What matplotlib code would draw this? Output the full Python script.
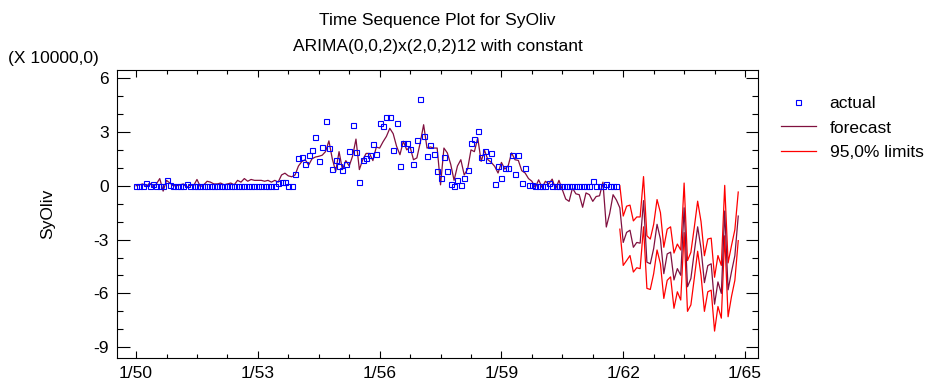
import matplotlib
matplotlib.use("Agg")
import matplotlib.pyplot as plt
from matplotlib.ticker import FixedLocator, MultipleLocator
import numpy as np

plt.rcParams['font.family'] = ['Liberation Sans', 'DejaVu Sans']
plt.rcParams['axes.unicode_minus'] = False

# ---- data (units of 10000), monthly from 1/50 ----
start_year = 1950
actual = [
    0, 0, 0, 0.15, 0, 0.1, 0, 0, 0, 0.3, 0.05, 0,
    0, 0, 0, 0.1, 0, 0, 0, 0, 0, 0, 0, 0,
    0, 0, 0, 0, 0, 0, 0, 0, 0, 0, 0, 0,
    0, 0, 0, 0, 0, 0, 0.15, 0.2, 0.2, 0, 0, 0.65,
    1.55, 1.6, 1.23, 1.7, 2.0, 2.7, 1.4, 2.16, 3.58, 2.08, 0.93, 1.41,
    1.08, 0.9, 1.23, 1.96, 3.39, 1.88, 0.2, 1.45, 1.55, 1.72, 2.35, 1.77,
    3.5, 3.35, 3.84, 3.84, 2.0, 3.5, 1.08, 2.38, 2.38, 2.07, 1.23, 2.53,
    4.84, 2.76, 1.64, 2.27, 1.77, 0.82, 0.41, 1.6, 0.84, 0.1, 0, 0.33,
    0.04, 0.41, 0.9, 2.38, 2.6, 3.05, 1.6, 1.92, 1.45, 1.83, 0.1, 1.12,
    0.45, 0.97, 0.97, 1.71, 0.65, 1.71, 0.15, 0.97, 0.04, 0.04, 0, 0,
    0, 0, 0.15, 0, 0, 0, 0, 0, 0, 0, 0, 0,
    0, 0, 0, 0.25, 0, 0, 0, 0.1, 0, 0, 0,
]
fitted = [
    0.0, 0.05, 0.1, -0.05, 0.15, -0.05, 0.1, 0.4, -0.3, 0.3, 0.15, 0.0,
    0.0, 0.05, 0.1, -0.1, 0.05, 0.0, 0.35, -0.05, 0.05, 0.25, 0.2, 0.1,
    0.1, 0.15, 0.05, 0.1, 0.15, 0.05, 0.3, 0.2, 0.4, 0.25, 0.35, 0.3,
    0.3, 0.3, 0.25, 0.3, 0.2, 0.3, 0.2, 0.6, 0.7, 0.55, 0.5, 0.6,
    1.1, 1.35, 1.45, 1.15, 1.5, 1.6, 1.64, 1.7, 1.9, 2.5, 1.5, 0.8,
    1.9, 0.9, 1.4, 1.1, 1.65, 2.6, 0.9, 1.45, 1.8, 1.8, 1.4, 2.15,
    2.1, 2.45, 2.75, 3.2, 2.9, 2.2, 1.73, 2.48, 2.0, 2.16, 1.45, 1.55,
    2.4, 3.4, 2.1, 2.16, 2.1, 2.1, 0.05, 2.1, 1.83, 1.2, 0.3, 1.1,
    1.45, 0.6, 0.93, 2.0, 1.9, 2.66, 1.36, 1.97, 1.45, 1.3, 1.08, 0.71,
    1.3, 0.93, 1.12, 1.83, 1.45, 1.41, 0.84, 0.71, 0.4, 0.25, -0.1, 0.33,
    -0.1, 0.25, 0.1, 0.37, -0.18, 0.3, -0.22, -0.74, -0.87, -0.13, -0.45, -0.5,
    -1.2, -0.4, -0.5, -0.87, -0.6, -0.56, 0.2, -2.3, -1.55, -0.5, -0.8,
]
forecast = [
    -1.23, -3.16, -2.6, -2.48, -3.43, -3.16, -3.2, -0.83, -4.26, -4.35, -3.5, -2.15,
    -2.97, -4.9, -3.8, -3.7, -5.25, -4.62, -4.99, -1.23, -5.63, -5.17, -3.7, -2.29,
    -3.5, -5.4, -4.45, -4.35, -6.6, -5.36, -6.0, -1.41, -5.8, -4.8, -3.9, -1.69,
]
upper = [
    0.0, -1.69, -1.14, -1.08, -1.96, -1.74, -1.74, 0.51, -2.79, -2.97, -2.15, -0.77,
    -1.5, -3.43, -2.42, -2.29, -3.75, -3.25, -3.58, 0.15, -4.17, -3.71, -2.33, -0.86,
    -2.0, -3.9, -2.97, -2.92, -5.1, -3.89, -4.44, 0.02, -4.3, -3.34, -2.45, -0.35,
]
lower = [
    -2.42, -4.44, -4.17, -3.89, -4.81, -4.57, -4.62, -2.29, -5.72, -5.78, -4.9, -3.58,
    -4.35, -6.28, -5.27, -5.08, -6.83, -5.91, -6.37, -2.61, -7.0, -6.64, -5.17, -3.65,
    -5.0, -7.0, -5.91, -5.82, -8.1, -6.73, -7.38, -2.79, -7.3, -6.18, -5.27, -3.06,
]
tick_years = [1950, 1953, 1956, 1959, 1962, 1965]
tick_labels = ["1/50", "1/53", "1/56", "1/59", "1/62", "1/65"]
y_ticks = [6, 3, 0, -3, -6, -9]

n_act = len(actual)
t_act = start_year + np.arange(n_act) / 12.0
t_fit = start_year + np.arange(len(fitted)) / 12.0
t_fc = start_year + (len(fitted) + np.arange(len(forecast))) / 12.0
t_line = np.concatenate([t_fit, t_fc])
line_vals = np.concatenate([fitted, forecast])

W, H = 931, 381
fig = plt.figure(figsize=(W / 100, H / 100), dpi=100)
ax = fig.add_axes([117 / W, 1 - 358 / H, (758 - 117) / W, (358 - 70) / H])

fc_color = '#80103F'
lim_color = '#FF0000'
ax.plot(t_fc, upper, color=lim_color, lw=0.9, label='95,0% limits', zorder=2)
ax.plot(t_fc, lower, color=lim_color, lw=0.9, zorder=2)
ax.plot(t_line, line_vals, color=fc_color, lw=0.9, label='forecast', zorder=3)
ax.plot(t_act, actual, ls='none', marker='s', ms=3.6, mfc='none', mec='#0000FF',
        mew=0.8, label='actual', zorder=4)

ax.set_xlim(1949.53, 1965.32)
ax.set_ylim(-9.6, 6.45)
ax.xaxis.set_major_locator(FixedLocator(tick_years))
ax.set_xticklabels(tick_labels)
ax.xaxis.set_minor_locator(MultipleLocator(0.75))
ax.yaxis.set_major_locator(FixedLocator(y_ticks))
ax.yaxis.set_minor_locator(MultipleLocator(1))

fs = 12.5
ax.tick_params(which='both', direction='in', top=True, right=True, labelsize=fs, width=0.8)
ax.tick_params(axis='y', which='major', length=9, pad=6)
ax.tick_params(axis='y', which='minor', length=4.5)
ax.tick_params(axis='x', which='major', length=5, pad=6)
ax.tick_params(axis='x', which='minor', length=3)
for s in ax.spines.values():
    s.set_linewidth(0.8)

ax.set_ylabel('SyOliv', fontsize=fs, labelpad=27)
fig.text(437.5 / W, 1 - 21 / H, 'Time Sequence Plot for SyOliv', ha='center', va='center', fontsize=fs)
fig.text(437.5 / W, 1 - 46 / H, 'ARIMA(0,0,2)x(2,0,2)12 with constant', ha='center', va='center', fontsize=fs)
fig.text(8 / W, 1 - 58 / H, '(X 10000,0)', ha='left', va='center', fontsize=fs)

h, l = ax.get_legend_handles_labels()
order = [l.index('actual'), l.index('forecast'), l.index('95,0% limits')]
ax.legend([h[i] for i in order], [l[i] for i in order], loc='upper left',
          bbox_to_anchor=(781 / W, 1 - 95.5 / H), bbox_transform=fig.transFigure,
          frameon=False, fontsize=fs, handlelength=2.0, handletextpad=0.8,
          labelspacing=0.56, borderpad=0, borderaxespad=0, numpoints=1)

fig.savefig('out.png', dpi=100)
